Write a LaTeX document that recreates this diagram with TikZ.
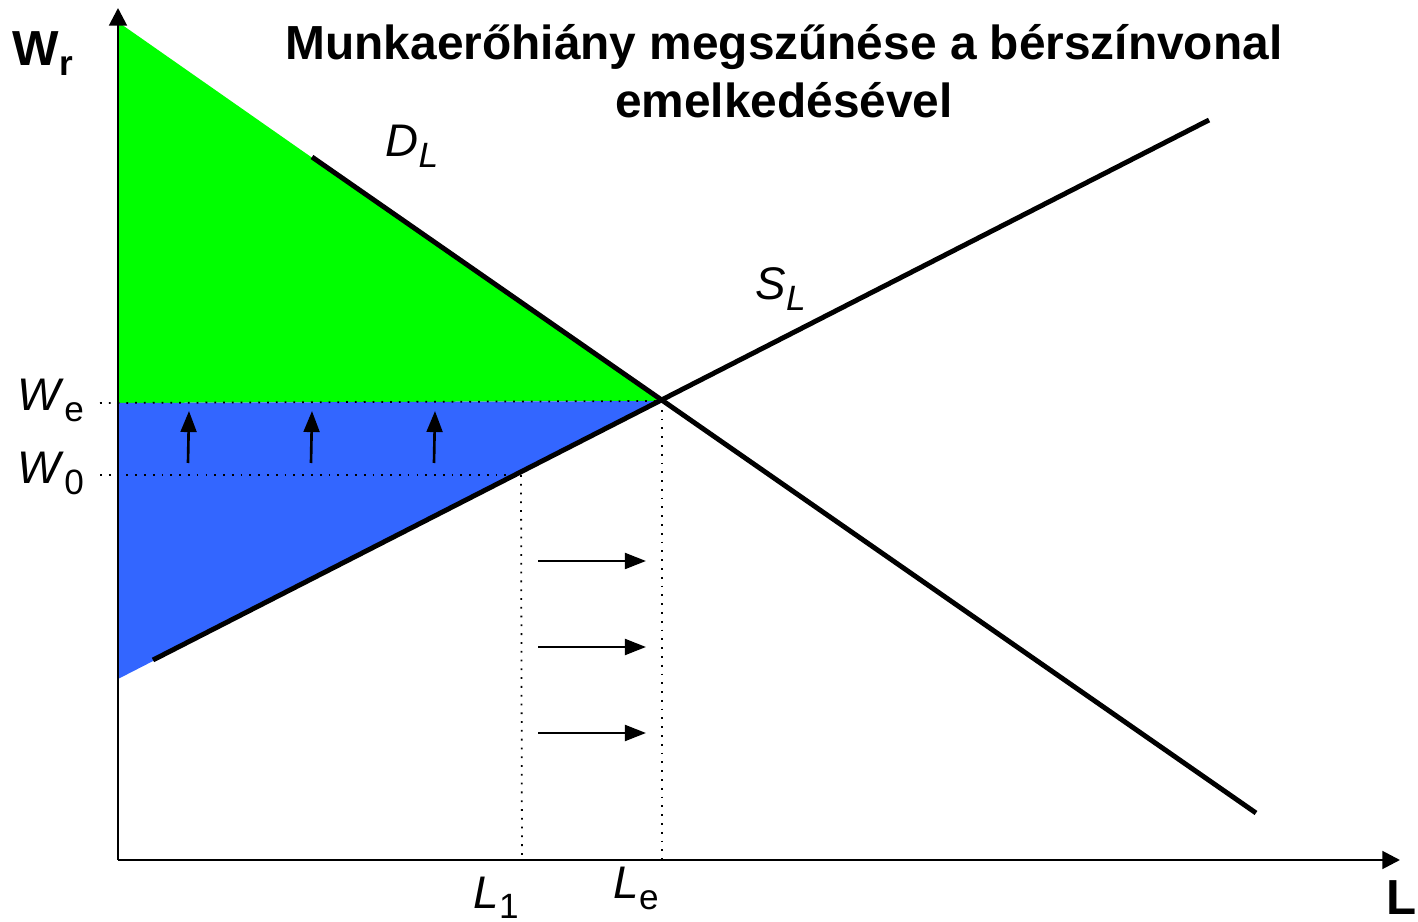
\documentclass[tikz,border=0pt]{standalone}
\usepackage{fontspec}
\setmainfont{Liberation Sans}
\usetikzlibrary{arrows.meta}
\definecolor{grn}{HTML}{00FF00}
\definecolor{blu}{HTML}{3366FF}
\newcommand{\lsub}[1]{\raisebox{-0.45ex}{\fontsize{10}{10}\selectfont #1}}
\begin{document}
\begin{tikzpicture}[x=0.01cm,y=-0.01cm,
  curve/.style={line width=1.4pt},
  axis/.style={line width=0.8pt,-{Triangle[length=5pt,width=5pt]}},
  guide/.style={line width=0.5pt,dotted},
  small/.style={line width=0.75pt,-{Triangle[length=6pt,width=4.5pt]}},
  lab/.style={font=\fontsize{13}{16}\selectfont,inner sep=0pt},
  blab/.style={font=\fontsize{14}{16}\selectfont\bfseries,inner sep=0pt},
  ttl/.style={font=\fontsize{13.6}{16.5}\selectfont\bfseries,align=center,inner sep=0pt}]
\useasboundingbox (0,0) rectangle (1418,922);
% coordinates
\coordinate (O) at (118,860);
\coordinate (Ytop) at (118,8);
\coordinate (Xend) at (1400,860);
\coordinate (E) at (660,401);
\coordinate (Dtop) at (118,22);
\coordinate (Sbot) at (118,679);
\coordinate (WeL) at (100,403);
\coordinate (WeA) at (118,403);
\coordinate (W0L) at (100,475);
\coordinate (W0S) at (521,475);
\coordinate (L1b) at (522,860);
\coordinate (Leb) at (662,860);
\coordinate (Le0) at (662,401);
\coordinate (D1) at (312,157);
\coordinate (D2) at (1256,813);
\coordinate (S1) at (153,660);
\coordinate (S2) at (1209,120);
% fills
\fill[grn] (Dtop) -- (E) -- (WeA) -- cycle;
\fill[blu] (WeA) -- (E) -- (Sbot) -- cycle;
% guides
\draw[guide] (WeL) -- (E);
\draw[guide] (W0L) -- (W0S);
\draw[guide] (W0S) -- (L1b);
\draw[guide] (Le0) -- (Leb);
% axes
\draw[axis] (O) -- (Ytop);
\draw[axis] (O) -- (Xend);
% curves
\draw[curve] (D1) -- (D2);
\draw[curve] (S1) -- (S2);
% small arrows
\foreach \i/\x in {1/188,2/311,3/434}{
  \coordinate (ua\i) at (\x,463);
  \coordinate (ub\i) at (\x+1,411);
  \draw[small] (ua\i) -- (ub\i);
}
\foreach \i/\y in {1/561,2/647,3/733}{
  \coordinate (ra\i) at (538,\y);
  \coordinate (rb\i) at (646,\y);
  \draw[small] (ra\i) -- (rb\i);
}
% labels
\node[blab,anchor=base west] (wr) at (12,66) {W\raisebox{-0.35ex}{\fontsize{10}{10}\selectfont\bfseries r}};
\node[lab,anchor=base west] (we) at (17,411) {\textit{W}\lsub{e}};
\node[lab,anchor=base west] (w0) at (17,484) {\textit{W}\lsub{0}};
\node[lab,anchor=base west] (l1) at (473,908) {\textit{L}\lsub{1}};
\node[lab,anchor=base west] (le) at (613,899) {\textit{L}\lsub{e}};
\node[blab,anchor=base west] (lL) at (1386,914) {L};
\node[lab,anchor=base west] (dl) at (385,157) {\textit{D}\lsub{\textit{L}}};
\node[lab,anchor=base west] (sl) at (755,300) {\textit{S}\lsub{\textit{L}}};
\node[ttl] (title) at (784,71) {Munkaerőhiány megszűnése a bérszínvonal\\emelkedésével};
\end{tikzpicture}
\end{document}
